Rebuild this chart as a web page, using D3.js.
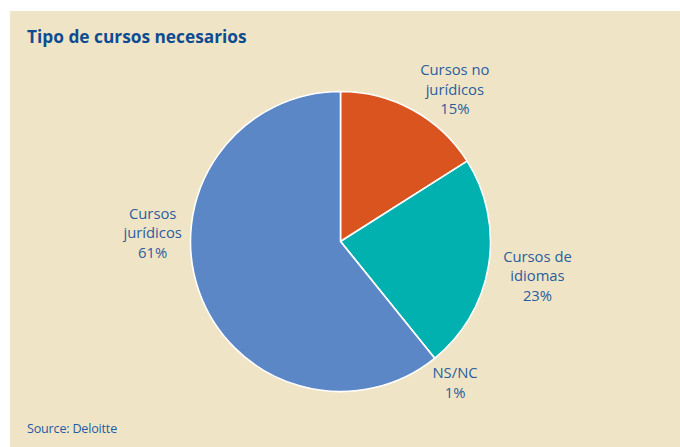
<!DOCTYPE html>
<html>
<head>
<meta charset="utf-8">
<script src="https://cdnjs.cloudflare.com/ajax/libs/d3/7.8.5/d3.min.js"></script>
<style>
  body { margin: 0; background: #fff; }
  text { font-family: "Open Sans", "Noto Sans", sans-serif; }
</style>
</head>
<body>
<div class="chart"></div>
<script>
// Data (slice shares as drawn, labels as printed)
var categories = ["Cursos no jurídicos", "Cursos de idiomas", "NS/NC", "Cursos jurídicos"];
var shares = [16, 23.2, 0, 60.8];
var pctLabels = ["15%", "23%", "1%", "61%"];
var labelLines = [["Cursos no", "jurídicos"], ["Cursos de", "idiomas"], ["NS/NC"], ["Cursos", "jurídicos"]];

var svgWidth = 680;
var svgHeight = 447;
var colors = ["#d9541f", "#00b1b0", "#00b1b0", "#5b87c6"];
// label anchor: angle (deg, clockwise from top) and distance from centre
var labelPos = [[37, 190], [100, 200], [141, 182], [272.5, 188]];

var svg = d3.select(".chart")
  .append("svg")
  .attr("width", svgWidth)
  .attr("height", svgHeight);

// panel background
svg.append("rect")
  .attr("x", 10)
  .attr("y", 11)
  .attr("width", svgWidth - 10)
  .attr("height", svgHeight - 11)
  .attr("fill", "#f0e4c6");

svg.append("text")
  .attr("x", 27)
  .attr("y", 43)
  .attr("fill", "#0d4c91")
  .attr("font-size", "17.3px")
  .attr("font-weight", "bold")
  .text("Tipo de cursos necesarios");

svg.append("text")
  .attr("x", 27)
  .attr("y", 433)
  .attr("fill", "#1e5ca3")
  .attr("font-size", "12.6px")
  .attr("letter-spacing", "-0.2px")
  .text("Source: Deloitte");

var cx = 340.5, cy = 241.5, radius = 150;

var pieGroup = svg.append("g")
  .attr("transform", `translate(${cx}, ${cy})`);

var pie = d3.pie().sort(null).value(d => d);
var arc = d3.arc().innerRadius(0).outerRadius(radius);

pieGroup.selectAll("path")
  .data(pie(shares))
  .enter()
  .append("path")
  .attr("d", arc)
  .attr("fill", (d, i) => colors[i])
  .attr("stroke", "#fff")
  .attr("stroke-width", 1.6)
  .attr("stroke-linejoin", "round");

// labels
categories.forEach(function(c, i) {
  var a = labelPos[i][0] * Math.PI / 180;
  var r = labelPos[i][1];
  var x = r * Math.sin(a);
  var y = -r * Math.cos(a);
  var lines = labelLines[i].concat([pctLabels[i]]);
  var lh = 19.5;
  var t = pieGroup.append("text")
    .attr("text-anchor", "middle")
    .attr("fill", "#2a5d9f")
    .attr("font-size", "14.8px");
  lines.forEach(function(l, j) {
    t.append("tspan")
      .attr("x", x)
      .attr("y", y + (j - (lines.length - 1) / 2) * lh + 5)
      .text(l);
  });
});
</script>
</body>
</html>
